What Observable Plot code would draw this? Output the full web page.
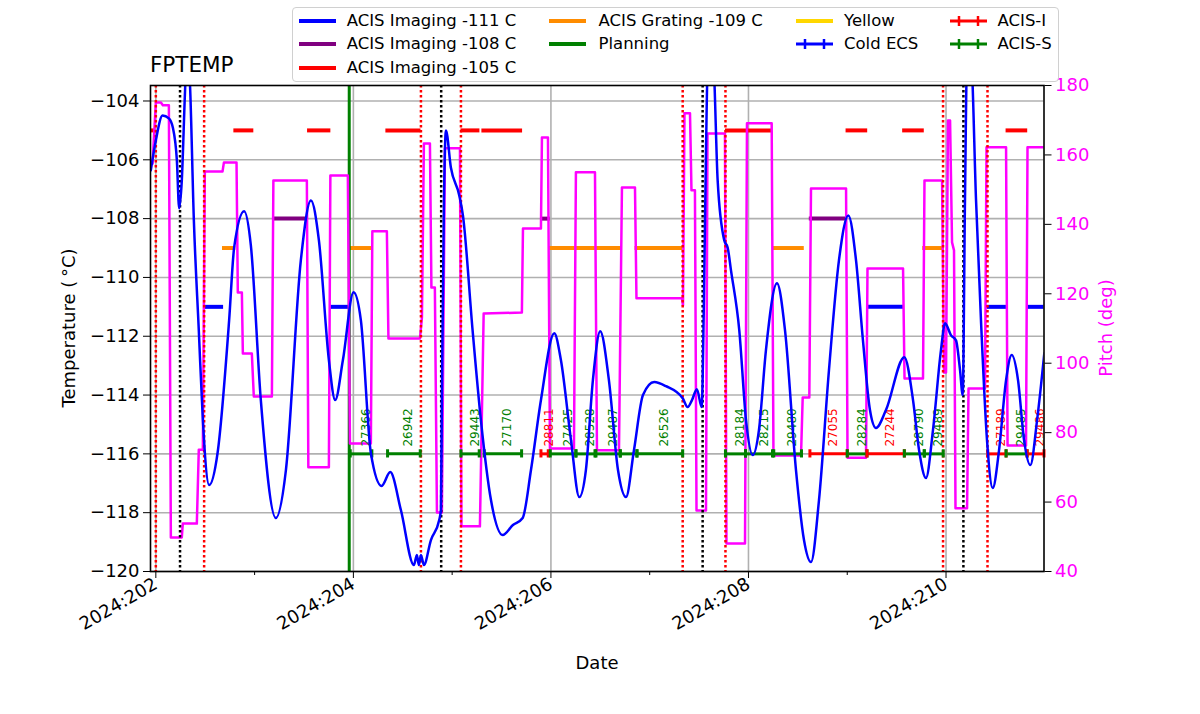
<!DOCTYPE html>
<html>
<head>
<meta charset="utf-8">
<script src="https://cdn.jsdelivr.net/npm/d3@7"></script>
<script src="https://cdn.jsdelivr.net/npm/@observablehq/plot@0.6"></script>
<style>
  body { margin: 0; background: #fff; font-family: "DejaVu Sans", sans-serif; }
  #wrap { position: relative; width: 1200px; height: 714px; overflow: hidden; }
  .lbl { position: absolute; white-space: nowrap; color: #000; }
  #legend { position: absolute; left: 292px; top: 7px; width: 767px; height: 75px;
            border: 1px solid #d0d0d0; border-radius: 4px; background: rgba(255,255,255,0.85);
            font-size: 16.5px; box-sizing: border-box; }
  .lsym { position: absolute; width: 37px; height: 14px; }
  .ltxt { position: absolute; line-height: 20px; white-space: nowrap; }
</style>
</head>
<body>
<div id="wrap"></div>
<script>
// ---------------- data ----------------
const fptempDay = [201.949,202.000,202.068,202.132,202.172,202.213,202.236,202.263,202.294,202.314,
  202.344,202.385,202.435,202.476,202.540,202.625,202.742,202.793,202.894,202.962,
  203.063,203.215,203.317,203.468,203.570,203.651,203.752,203.816,203.894,204.002,
  204.076,204.177,204.286,204.373,204.481,204.613,204.643,204.663,204.684,204.714,
  204.785,204.869,204.886,204.896,204.917,204.937,204.987,205.072,205.109,205.207,
  205.291,205.393,205.511,205.615,205.714,205.798,205.899,206.034,206.101,206.203,
  206.287,206.354,206.425,206.499,206.587,206.679,206.760,206.841,206.932,207.046,
  207.165,207.334,207.384,207.428,207.478,207.526,207.549,207.570,207.590,207.641,
  207.688,207.755,207.789,207.823,207.907,207.975,208.043,208.106,208.177,208.289,
  208.370,208.481,208.562,208.633,208.714,208.815,208.916,209.011,209.089,209.159,
  209.230,209.291,209.392,209.578,209.666,209.727,209.797,209.868,209.949,209.990,
  210.051,210.101,210.142,210.169,210.192,210.213,210.253,210.304,210.354,210.415,
  210.473,210.537,210.608,210.665,210.729,210.790,210.854,210.922,210.995];
const fptempValue = [-106.36,-105.34,-104.49,-104.59,-104.90,-106.02,-107.65,-106.70,-103.81,-102.28,
  -103.30,-108.06,-111.80,-114.85,-117.06,-115.97,-111.46,-108.98,-107.75,-108.91,
  -114.17,-118.18,-116.55,-109.42,-107.38,-108.74,-112.81,-114.17,-112.81,-110.50,
  -111.46,-115.97,-117.09,-116.62,-117.91,-119.78,-119.44,-119.78,-119.44,-119.78,
  -118.93,-118.25,-117.91,-114.17,-107.38,-105.00,-106.26,-107.21,-107.89,-111.80,
  -114.85,-117.57,-118.76,-118.42,-118.18,-116.55,-114.17,-111.90,-112.81,-115.53,
  -117.47,-116.55,-113.49,-111.83,-113.49,-116.55,-117.47,-115.87,-114.00,-113.56,
  -113.70,-114.11,-114.41,-114.17,-113.80,-114.41,-110.78,-105.68,-102.62,-102.62,
  -106.70,-108.74,-108.98,-109.76,-111.80,-114.85,-116.04,-115.19,-112.47,-110.20,
  -111.80,-116.55,-118.93,-119.68,-117.57,-113.15,-109.42,-107.89,-109.42,-112.14,
  -114.51,-115.12,-114.51,-112.71,-114.17,-115.87,-116.82,-115.19,-112.47,-111.56,
  -111.97,-112.14,-113.15,-114.00,-107.38,-102.62,-102.62,-107.38,-111.46,-115.53,
  -117.16,-115.87,-113.49,-112.64,-113.49,-115.53,-116.38,-114.85,-112.58];

const pitchDay = [201.967,202.000,202.051,202.071,202.132,202.152,202.263,202.273,202.415,202.435,
  202.476,202.496,202.675,202.689,202.817,202.830,202.871,202.881,202.972,202.992,
  203.175,203.190,203.529,203.544,203.752,203.767,203.944,203.965,204.177,204.192,
  204.339,204.355,204.674,204.694,204.714,204.775,204.790,204.825,204.846,204.896,
  204.927,205.079,205.094,205.281,205.319,205.706,205.717,205.899,205.909,205.970,
  205.990,206.233,206.253,206.446,206.466,206.689,206.719,206.851,206.866,207.327,
  207.337,207.352,207.408,207.423,207.458,207.474,207.570,207.585,207.762,207.777,
  207.965,207.985,208.235,208.253,208.532,208.549,208.616,208.633,208.988,209.003,
  209.190,209.205,209.565,209.580,209.767,209.782,209.960,209.980,210.000,210.020,
  210.041,210.061,210.081,210.096,210.213,210.228,210.395,210.410,210.608,210.623,
  210.810,210.825,211.003];
const pitchValue = [157.5,175.1,175.1,174.3,174.3,49.8,49.8,53.8,53.8,75.1,
  75.1,155.2,155.2,157.8,157.8,120.4,120.4,102.8,102.8,90.4,
  90.4,152.6,152.6,70.0,70.0,154.1,154.1,76.9,76.9,138.0,
  138.0,107.1,107.1,113.2,163.3,163.3,121.8,121.8,57.0,57.0,
  161.9,161.9,53.0,53.0,114.3,114.6,138.8,138.8,165.0,165.0,
  75.4,75.4,155.0,155.0,74.9,74.9,150.6,150.6,118.7,118.7,
  116.6,172.0,172.0,149.8,149.8,57.6,57.6,166.2,166.2,48.1,
  48.1,169.1,169.1,73.4,73.4,90.1,90.1,150.3,150.3,72.8,
  72.8,127.3,127.3,95.6,95.6,152.6,152.6,97.3,97.3,169.9,
  169.9,134.8,132.5,58.2,58.2,92.7,92.7,162.2,162.2,76.3,
  76.3,162.2,162.2];

// limit segments (day start / end)
const lim105Start = [201.946,202.790,203.536,204.329,205.089,205.301,207.767,208.988,209.561,210.608];
const lim105End   = [202.000,202.992,203.772,204.684,205.281,205.713,208.243,209.207,209.780,210.827];
const lim111Start = [202.489,203.765,209.200,210.415,210.821];
const lim111End   = [202.686,203.958,209.578,210.618,210.992];
const lim108Start = [203.182,205.899,208.616];
const lim108End   = [203.526,205.993,208.988];
const lim109Start = [202.675,203.958,205.983,206.851,208.245,209.764];
const lim109End   = [202.810,204.201,206.709,207.334,208.565,209.967];

const redDotted = [202.000,202.489,204.684,205.089,207.334,207.767,209.970,210.420];
const blackDotted = [202.245,204.889,207.536,210.176];
const planningStart = [203.958];

// observations
const obsStart = [203.968,204.346,205.089,205.325,205.899,205.993,206.253,206.456,206.702,206.871,207.767,
  207.970,208.256,208.622,209.000,209.200,209.578,209.780,210.422,210.608,210.821];
const obsEnd = [204.187,204.677,205.274,205.703,205.973,206.253,206.446,206.702,206.871,207.334,207.970,
  208.243,208.537,209.000,209.200,209.578,209.780,209.972,210.608,210.821,210.992];
const obsId = ["27366","26942","29443","27170","28811","27425","28528","29487","","26526","28184",
  "28215","29480","27055","28284","27244","28790","29489","27189","29485","29486"];
const obsInstr = ["S","S","S","S","I","S","S","S","S","S","S","S","S","I","S","I","S","S","I","S","I"];

const tempTicks = [-104,-106,-108,-110,-112,-114,-116,-118,-120];
const pitchTicks = [40,60,80,100,120,140,160,180];
const dayMajor = [202,204,206,208,210];
const dayMinor = [203,205,207,209];

// ---------------- scales ----------------
const X0 = 201.946, X1 = 210.992, T0 = -120, T1 = -103.473, P0 = 40, P1 = 180;
const pToT = p => T0 + (p - P0) / (P1 - P0) * (T1 - T0);
const tToP = t => P0 + (t - T0) / (T1 - T0) * (P1 - P0);

const fptemp = fptempDay.map((d, i) => ({day: d, t: fptempValue[i]}));
const pitch = pitchDay.map((d, i) => ({day: d, t: pToT(pitchValue[i])}));

const segs = [];
const addSegs = (s, e, level, color) => s.forEach((v, i) => segs.push({s: v, e: e[i], y: level, color}));
addSegs(lim105Start, lim105End, -105, "#ff0000");
addSegs(lim111Start, lim111End, -111, "#0000ff");
addSegs(lim108Start, lim108End, -108, "#800080");
addSegs(lim109Start, lim109End, -109, "#ff8c00");

const OBS_Y = -116;
const obs = obsStart.map((s, i) => ({
  s, e: obsEnd[i], mid: (s + obsEnd[i]) / 2, y: OBS_Y, ty: OBS_Y + 0.25,
  label: obsId[i], color: obsInstr[i] === "I" ? "#ff0000" : "#008000"
}));
const caps = [];
obs.forEach(o => { caps.push({x: o.s, color: o.color}); caps.push({x: o.e, color: o.color}); });

const chart = Plot.plot({
  width: 1200, height: 714,
  marginLeft: 150, marginRight: 156.5, marginTop: 85, marginBottom: 143,
  x: {domain: [X0, X1]},
  y: {domain: [T0, T1]},
  style: {fontFamily: "DejaVu Sans", fontSize: "18px", background: "white", color: "black"},
  marks: [
    Plot.ruleY(tempTicks, {stroke: "#b0b0b0", strokeWidth: 1.6}),
    Plot.ruleX(dayMajor, {stroke: "#b0b0b0", strokeWidth: 1.6}),
    Plot.ruleY(segs, {x1: "s", x2: "e", y: "y", stroke: "color", strokeWidth: 4}),
    Plot.ruleX(planningStart, {stroke: "#008000", strokeWidth: 3}),
    Plot.line(pitch, {x: "day", y: "t", stroke: "#ff00ff", strokeWidth: 2.5, clip: true}),
    Plot.ruleX(redDotted, {stroke: "#ff0000", strokeWidth: 2.5, strokeDasharray: "2.5,2.5"}),
    Plot.ruleX(blackDotted, {stroke: "#000000", strokeWidth: 2.5, strokeDasharray: "2.5,2.5"}),
    Plot.ruleY(obs, {x1: "s", x2: "e", y: "y", stroke: "color", strokeWidth: 3}),
    Plot.ruleX(caps, {x: "x", y1: OBS_Y - 0.14, y2: OBS_Y + 0.14, stroke: "color", strokeWidth: 3}),
    Plot.text(obs.filter(o => o.label), {x: "mid", y: "ty", text: "label", rotate: -90,
      textAnchor: "start", lineAnchor: "top", fill: "color", fontSize: 12, clip: true}),
    Plot.line(fptemp, {x: "day", y: "t", stroke: "#0000ff", strokeWidth: 2.5, curve: "monotone-x", clip: true}),
    Plot.frame({stroke: "black", strokeWidth: 1.6}),
    Plot.axisX({ticks: dayMajor, tickFormat: d => `2024:${d}`, tickRotate: -30, tickSize: 7,
      tickPadding: 4, fontSize: 18, label: null}),
    Plot.axisX({ticks: dayMinor, tickFormat: () => "", tickSize: 4, label: null}),
    Plot.axisY({ticks: tempTicks, tickSize: 7, tickPadding: 4, fontSize: 18, label: null,
      tickFormat: d3.format("d")}),
    Plot.axisY({anchor: "right", ticks: pitchTicks.map(pToT), tickSize: 7, tickPadding: 4, fontSize: 18,
      label: null, fill: "#ff00ff", tickFormat: t => String(Math.round(tToP(t)))})
  ]
});

const wrap = document.getElementById("wrap");
wrap.appendChild(chart);

// ---------------- text annotations ----------------
function addLabel(text, x, y, opts = {}) {
  const d = document.createElement("div");
  d.className = "lbl";
  d.textContent = text;
  d.style.left = x + "px";
  d.style.top = y + "px";
  d.style.fontSize = (opts.size || 18) + "px";
  if (opts.color) d.style.color = opts.color;
  d.style.transform = opts.transform || "translate(-50%,-50%)";
  wrap.appendChild(d);
}
addLabel("FPTEMP", 150, 64, {size: 21.5, transform: "translate(0,-50%)"});
addLabel("Temperature (\u2009\u00B0C)", 68, 328, {transform: "translate(-50%,-50%) rotate(-90deg)"});
addLabel("Pitch (deg)", 1105, 328, {color: "#ff00ff", transform: "translate(-50%,-50%) rotate(-90deg)"});
addLabel("Date", 597, 662);

// ---------------- legend ----------------
const legendItems = [
  {label: "ACIS Imaging -111 C", color: "#0000ff", col: 0, row: 0},
  {label: "ACIS Imaging -108 C", color: "#800080", col: 0, row: 1},
  {label: "ACIS Imaging -105 C", color: "#ff0000", col: 0, row: 2},
  {label: "ACIS Grating -109 C", color: "#ff8c00", col: 1, row: 0},
  {label: "Planning", color: "#008000", col: 1, row: 1},
  {label: "Yellow", color: "#ffd700", col: 2, row: 0},
  {label: "Cold ECS", color: "#0000ff", col: 2, row: 1, err: true},
  {label: "ACIS-I", color: "#ff0000", col: 3, row: 0, err: true},
  {label: "ACIS-S", color: "#008000", col: 3, row: 1, err: true}
];
const legend = document.createElement("div");
legend.id = "legend";
wrap.appendChild(legend);
const colLine = [5.5, 255.7, 503, 657];
const colText = [53.7, 305.5, 551, 704.5];
const rowY = [13, 36, 59.5];
legendItems.forEach(it => {
  const ns = "http://www.w3.org/2000/svg";
  const svg = document.createElementNS(ns, "svg");
  svg.setAttribute("class", "lsym");
  svg.setAttribute("width", 37); svg.setAttribute("height", 14);
  svg.style.left = colLine[it.col] + "px";
  svg.style.top = (rowY[it.row] - 7) + "px";
  const ln = document.createElementNS(ns, "line");
  ln.setAttribute("x1", 0); ln.setAttribute("x2", 37); ln.setAttribute("y1", 7); ln.setAttribute("y2", 7);
  ln.setAttribute("stroke", it.color); ln.setAttribute("stroke-width", it.err ? 3 : 4);
  svg.appendChild(ln);
  if (it.err) {
    [9, 28].forEach(cx => {
      const c = document.createElementNS(ns, "line");
      c.setAttribute("x1", cx); c.setAttribute("x2", cx); c.setAttribute("y1", 2); c.setAttribute("y2", 12);
      c.setAttribute("stroke", it.color); c.setAttribute("stroke-width", 2.5);
      svg.appendChild(c);
    });
  }
  legend.appendChild(svg);
  const t = document.createElement("div");
  t.className = "ltxt";
  t.textContent = it.label;
  t.style.left = colText[it.col] + "px";
  t.style.top = (rowY[it.row] - 10) + "px";
  legend.appendChild(t);
});
</script>
</body>
</html>
